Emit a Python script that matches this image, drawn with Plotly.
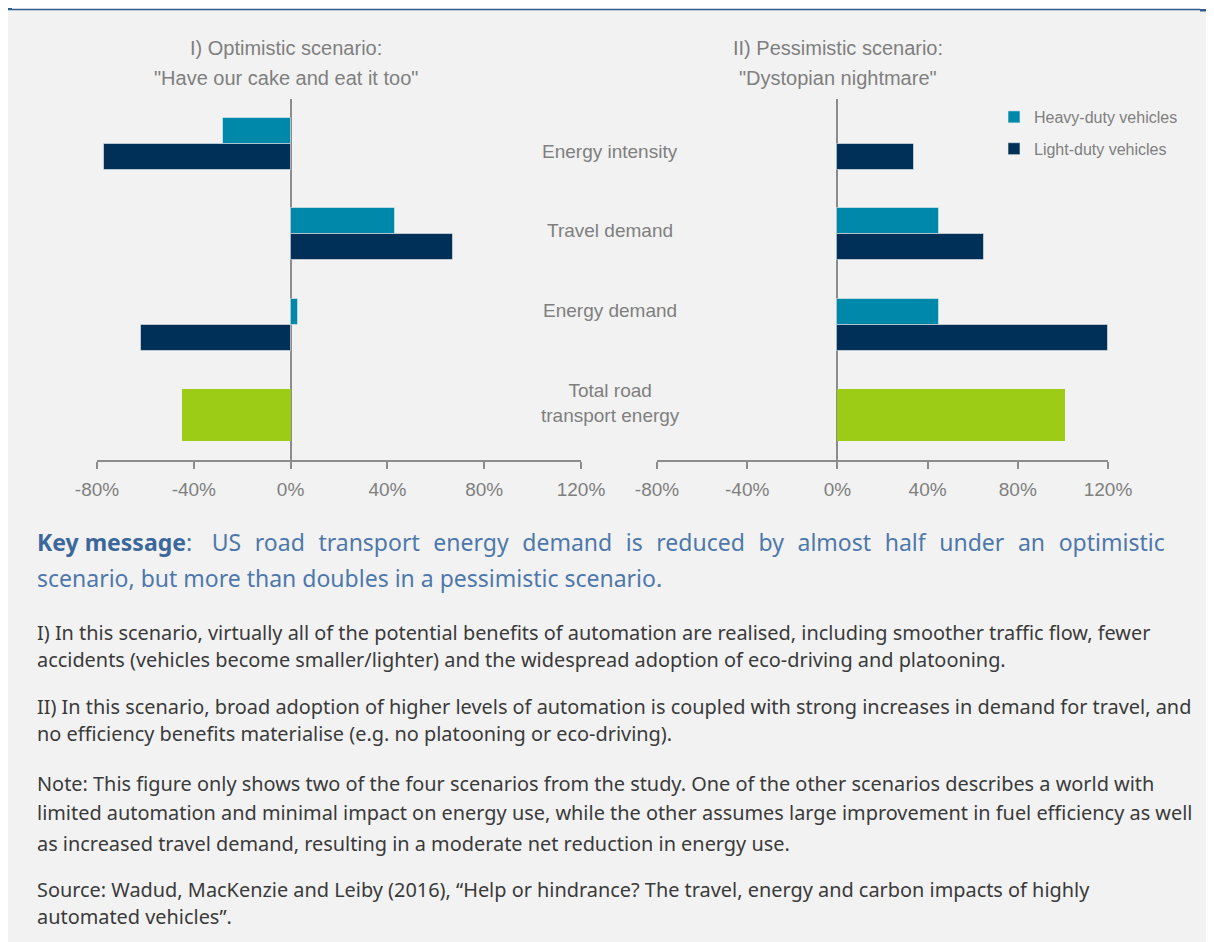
import plotly.graph_objects as go

# The page body has an 8px margin, so the figure starts at (8, 8) on screen.
OFF = 8
W, H = 1214 - OFF, 942 - OFF

categories = ["Energy intensity", "Travel demand", "Energy demand", "Total road transport energy"]
category_labels = ["Energy intensity", "Travel demand", "Energy demand", "Total road<br>transport energy"]

# Optimistic scenario (I)
opt_hdv = [-28, 43, 3, None]
opt_ldv = [-77, 67, -62, None]
opt_total = [None, None, None, -45]
# Pessimistic scenario (II)
pes_hdv = [None, 45, 45, None]
pes_ldv = [34, 65, 120, None]
pes_total = [None, None, None, 101]

tick_vals = [-80, -40, 0, 40, 80, 120]
tick_text = ["-80%", "-40%", "0%", "40%", "80%", "120%"]

titles_left = ["I) Optimistic scenario:", "\"Have our cake and eat it too\""]
titles_right = ["II) Pessimistic scenario:", "\"Dystopian nightmare\""]

key_bold = "Key message"
key_line1 = "US road transport energy demand is reduced by almost half under an optimistic"
key_line2 = "scenario, but more than doubles in a pessimistic scenario."
notes = [
    "I) In this scenario, virtually all of the potential benefits of automation are realised, including smoother traffic flow, fewer",
    "accidents (vehicles become smaller/lighter) and the widespread adoption of eco-driving and platooning.",
    "II) In this scenario, broad adoption of higher levels of automation is coupled with strong increases in demand for travel, and",
    "no efficiency benefits materialise (e.g. no platooning or eco-driving).",
    "Note: This figure only shows two of the four scenarios from the study. One of the other scenarios describes a world with",
    "limited automation and minimal impact on energy use, while the other assumes large improvement in fuel efficiency as well",
    "as increased travel demand, resulting in a moderate net reduction in energy use.",
    "Source: Wadud, MacKenzie and Leiby (2016), \u201cHelp or hindrance? The travel, energy and carbon impacts of highly",
    "automated vehicles\u201d.",
]
note_y = [632, 659, 706, 733, 783, 812, 843, 889, 916]

C_HDV = "#0088aa"
C_LDV = "#003057"
C_TOT = "#9ccc16"
GREY = "#7f7f7f"
AX = "#8c8c8c"
CHART_FONT = "Liberation Sans, Arial, sans-serif"
BODY_FONT = "Noto Sans, sans-serif"


def px(x):
    return (x - OFF) / W


def py(y):
    return 1 - (y - OFF) / H


BW = 0.288
edge = dict(color="rgba(230,236,240,0.6)", width=1)

fig = go.Figure()
for xa, ya, hdv, ldv, tot, leg in [("x", "y", opt_hdv, opt_ldv, opt_total, False),
                                   ("x2", "y2", pes_hdv, pes_ldv, pes_total, True)]:
    fig.add_trace(go.Bar(y=categories, x=hdv, orientation="h", name="Heavy-duty vehicles",
                         marker=dict(color=C_HDV, line=edge), width=BW, offset=-BW,
                         xaxis=xa, yaxis=ya, showlegend=leg, legendgroup="hdv", hoverinfo="x+y"))
    fig.add_trace(go.Bar(y=categories, x=ldv, orientation="h", name="Light-duty vehicles",
                         marker=dict(color=C_LDV, line=edge), width=BW, offset=0,
                         xaxis=xa, yaxis=ya, showlegend=leg, legendgroup="ldv", hoverinfo="x+y"))
    fig.add_trace(go.Bar(y=categories, x=tot, orientation="h", name="Total",
                         marker=dict(color=C_TOT, line=dict(width=0)), width=2 * BW, offset=-BW,
                         xaxis=xa, yaxis=ya, showlegend=False, legendgroup="tot", hoverinfo="x+y"))

xcommon = dict(range=[-80, 120], tickvals=tick_vals, ticktext=tick_text, showgrid=False,
               zeroline=True, zerolinecolor=AX, zerolinewidth=1.5,
               showline=True, linecolor=AX, linewidth=1.5, ticks="outside", ticklen=7,
               tickcolor=AX, tickwidth=1.5, ticklabelstandoff=4, automargin=False,
               tickfont=dict(family=CHART_FONT, size=19, color=GREY), fixedrange=True)
ycommon = dict(categoryorder="array", categoryarray=categories, range=[3.5, -0.5],
               showticklabels=False, showgrid=False, zeroline=False, showline=False,
               ticks="", fixedrange=True, automargin=False)

y_dom = [py(460), py(99)]
fig.update_layout(
    width=W, height=H, margin=dict(l=0, r=0, t=0, b=0, pad=0, autoexpand=False),
    paper_bgcolor="#f2f2f2", plot_bgcolor="rgba(0,0,0,0)",
    barmode="overlay", bargap=0,
    xaxis=dict(domain=[px(97), px(581)], anchor="y", **xcommon),
    yaxis=dict(domain=y_dom, anchor="x", **ycommon),
    xaxis2=dict(domain=[px(657), px(1108)], anchor="y2", **xcommon),
    yaxis2=dict(domain=y_dom, anchor="x2", **ycommon),
    legend=dict(x=px(994), y=py(100), xanchor="left", yanchor="top",
                bgcolor="rgba(0,0,0,0)", font=dict(family=CHART_FONT, size=16, color=GREY),
                tracegroupgap=8, itemwidth=30, traceorder="grouped"),
    showlegend=True,
)

annotations = []
# panel titles
for lines, cx in [(titles_left, 286), (titles_right, 838)]:
    for line, cy in zip(lines, [48, 78]):
        annotations.append(dict(text=line, x=px(cx), y=py(cy), xref="paper", yref="paper",
                                xanchor="center", yanchor="middle", showarrow=False,
                                font=dict(family=CHART_FONT, size=20, color=GREY)))
# category labels
for lab, cy in zip(category_labels, [151, 230, 310, 403]):
    annotations.append(dict(text=lab, x=px(610), y=py(cy), xref="paper", yref="paper",
                            xanchor="center", yanchor="middle", showarrow=False, align="center",
                            font=dict(family=CHART_FONT, size=19, color=GREY)))
# key message (line 1 justified with thin spaces)
line1 = key_line1.replace(" ", " \u2009\u2009")
annotations.append(dict(text="<span style='color:#3b679b'><b>" + key_bold + "</b></span>:  \u2009\u2009" + line1,
                        x=px(35), y=py(542),
                        xref="paper", yref="paper", xanchor="left", yanchor="middle", showarrow=False,
                        font=dict(family=BODY_FONT, size=23, color="#4e78ab")))
annotations.append(dict(text=key_line2, x=px(35), y=py(578),
                        xref="paper", yref="paper", xanchor="left", yanchor="middle", showarrow=False,
                        font=dict(family=BODY_FONT, size=23, color="#4e78ab")))
for line, cy in zip(notes, note_y):
    annotations.append(dict(text=line, x=px(35), y=py(cy), xref="paper", yref="paper",
                            xanchor="left", yanchor="middle", showarrow=False,
                            font=dict(family=BODY_FONT, size=19.9, color="#3a3a3a")))
fig.update_layout(annotations=annotations)

shapes = [
    dict(type="rect", xref="paper", yref="paper", x0=0, x1=1, y0=py(9), y1=1,
         fillcolor="white", line=dict(width=0), layer="below"),
    dict(type="line", xref="paper", yref="paper", x0=px(6), x1=px(1200), y0=py(9.5), y1=py(9.5),
         line=dict(color="#2f5b91", width=1.5)),
    dict(type="rect", xref="paper", yref="paper", x0=px(6), x1=px(12), y0=py(10), y1=1,
         fillcolor="#2f5b91", line=dict(width=0)),
    dict(type="rect", xref="paper", yref="paper", x0=px(1200), x1=1, y0=py(11.5), y1=py(9),
         fillcolor="#2f5b91", line=dict(width=0)),
]
fig.update_layout(shapes=shapes)

fig.write_html("out.html")
